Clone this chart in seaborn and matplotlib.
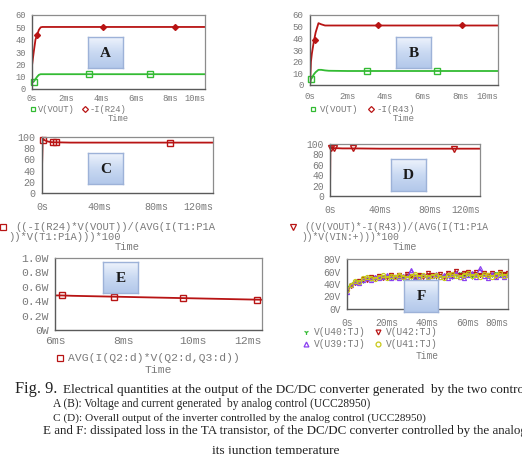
import matplotlib
matplotlib.use('Agg')
import matplotlib.pyplot as plt
from matplotlib.lines import Line2D
from matplotlib.colors import LinearSegmentedColormap
import numpy as np
import pandas as pd
import seaborn as sns

# ---- data (time in ms) ----
a_t     = [0, 0.1, 0.2, 0.3, 0.4, 0.5, 0.6, 0.8, 1, 2, 4, 6, 8, 10]
a_vout  = [5, 6, 8, 10, 11.5, 12, 12, 12, 12, 12, 12, 12, 12, 12]
a_ir24  = [19, 30, 40, 44, 48, 50, 50.3, 50.3, 50.3, 50.3, 50.3, 50.3, 50.3, 50.3]
a_mk_v  = ([0.1, 3.3, 6.8], [6, 12, 12])
a_mk_i  = ([0.3, 4.1, 8.25], [44, 50.3, 50.3])

b_t     = [0, 0.05, 0.1, 0.2, 0.3, 0.45, 0.6, 0.8, 1, 2, 4, 6, 8, 10]
b_vout  = [0, 5, 6, 9, 11, 13, 13, 12.5, 12.2, 12, 12, 12, 12, 12]
b_ir43  = [0, 20, 27, 37, 45, 53, 52, 51, 51, 51, 51, 51, 51, 51]
b_mk_v  = ([0.05, 3.05, 6.75], [5, 12, 12])
b_mk_i  = ([0.25, 3.6, 8.1], [39, 51, 51])

c_t     = [0, 0.5, 1, 2, 4, 6, 8, 10, 20, 40, 80, 120]
c_eff   = [45, 97, 96, 94, 92, 91, 90.5, 90.5, 90, 90, 90, 90]
c_mk    = ([1, 8, 10, 90], [95, 90.5, 90.5, 90])

d_t     = [0, 0.3, 1, 2, 5, 10, 20, 40, 80, 120]
d_eff   = [0, 93, 93, 92, 92, 91.5, 91.5, 91, 91, 91]
d_mk    = ([0.8, 3.5, 18, 99.5], [92.5, 92, 91.5, 91])

e_t     = [6.0, 6.2, 6.5, 7.0, 7.5, 8.0, 8.5, 9.0, 9.5, 10.0, 10.5, 11.0, 11.5, 12.0]
e_p     = [0.48, 0.48, 0.475, 0.47, 0.465, 0.46, 0.455, 0.45, 0.445, 0.44, 0.435, 0.43, 0.425, 0.42]
e_mk    = ([6.2, 7.7, 9.7, 11.85], [0.48, 0.455, 0.44, 0.42])

f_t = [0, 2, 4, 6, 8, 10, 12, 14, 16, 18, 20, 22, 24, 26, 28, 30, 32, 34, 36, 38, 40,
       42, 44, 46, 48, 50, 52, 54, 56, 58, 60, 62, 64, 66, 68, 70, 72, 74, 76, 78, 80]
f_u40 = [33, 40, 44, 47, 45, 50, 48, 52, 50, 53, 51, 49, 53, 52, 50, 54, 52, 51, 55, 53, 52,
         54, 51, 55, 53, 56, 52, 54, 57, 53, 55, 52, 56, 54, 57, 53, 55, 58, 54, 56, 55]
f_u42 = [30, 37, 42, 45, 48, 46, 51, 49, 53, 50, 52, 55, 51, 54, 52, 56, 53, 50, 55, 52, 57,
         54, 53, 56, 52, 58, 55, 61, 54, 57, 60, 56, 59, 55, 58, 54, 57, 53, 59, 56, 57]
f_u39 = [28, 38, 43, 41, 47, 50, 47, 52, 49, 51, 54, 50, 52, 49, 53, 51, 63, 52, 50, 54, 49,
         53, 56, 51, 54, 50, 53, 57, 52, 49, 55, 58, 52, 65, 53, 50, 56, 52, 55, 51, 54]
f_u41 = [31, 39, 45, 43, 49, 51, 50, 48, 52, 54, 50, 53, 51, 55, 52, 50, 53, 56, 52, 54, 51,
         53, 55, 52, 50, 54, 56, 53, 51, 55, 57, 53, 55, 52, 56, 54, 52, 55, 57, 53, 55]

cap_title = 'Fig. 9.'
cap_lines = [
    "Electrical quantities at the output of the DC/DC converter generated  by the two controls",
    "A (B): Voltage and current generated  by analog control (UCC28950)",
    "C (D): Overall output of the inverter controlled by the analog control (UCC28950)",
    "E and F: dissipated loss in the TA transistor, of the DC/DC converter controlled by the analog control and",
    "its junction temperature",
]

RED = '#b81414'
GREEN = '#33bb33'
PURPLE = '#8a3ff0'
OLIVE = '#c8c818'
GRAY_TXT = '#7a7a7a'
MONO = 'Liberation Mono'
SERIF = 'Liberation Serif'

sns.set_theme(style='white')
plt.rcParams['font.family'] = [MONO, 'DejaVu Sans Mono']

W, H = 522, 454
fig = plt.figure(figsize=(W / 100, H / 100), dpi=100)


def px_axes(l, t, r, b):
    return fig.add_axes([l / W, 1 - b / H, (r - l) / W, (b - t) / H])


def style_ax(ax, xlim, xticks, xlabels, ylim, yticks, ylabels, fs, tickdir='out', xpad=4):
    ax.set_xlim(xlim)
    ax.set_ylim(ylim)
    ax.set_xticks(xticks)
    ax.set_xticklabels(xlabels)
    ax.set_yticks(yticks)
    ax.set_yticklabels(ylabels)
    ax.tick_params(axis='both', direction='out', length=2.5, width=0.8,
                   color='#555555', labelcolor=GRAY_TXT, labelsize=fs, pad=2)
    ax.tick_params(axis='x', direction=tickdir, pad=xpad)
    ax.get_xticklabels()[-1].set_horizontalalignment('right')
    ax.set_xlabel('')
    ax.set_ylabel('')
    for s in ['left', 'bottom']:
        ax.spines[s].set_color('#5a5a5a')
        ax.spines[s].set_linewidth(1.0)
    for s in ['top', 'right']:
        ax.spines[s].set_color('#8c8c8c')
        ax.spines[s].set_linewidth(0.9)


def time_label(ax, y, fs):
    pos = ax.get_position()
    fig.text((pos.x0 + pos.x1) / 2, 1 - y / H, 'Time', ha='center', va='center',
             color=GRAY_TXT, fontsize=fs, family=MONO)


def legend_item(x, y, marker, color, text, fs, ms=3.5, dx=8):
    fig.add_artist(Line2D([x / W], [1 - y / H], transform=fig.transFigure, ls='none',
                          marker=marker, mfc='none', mec=color, mew=0.9, ms=ms))
    fig.text((x + dx) / W, 1 - y / H, text, ha='left', va='center',
             color=GRAY_TXT, fontsize=fs, family=MONO)


grad_cmap = LinearSegmentedColormap.from_list('box', ['#eef3fc', '#c9d9f2', '#b3c8ea'])


def letter_box(l, t, r, b, letter):
    bx = px_axes(l, t, r, b)
    g = np.linspace(0, 1, 64).reshape(-1, 1)
    bx.imshow(g, cmap=grad_cmap, aspect='auto', extent=(0, 1, 0, 1))
    bx.set_xticks([])
    bx.set_yticks([])
    for s in bx.spines.values():
        s.set_color('#9db2d8')
        s.set_linewidth(1.0)
    bx.text(0.5, 0.48, letter, ha='center', va='center', fontsize=11,
            fontweight='bold', family=SERIF, color='#1a1a1a')


def line_with_marks(ax, x, y, mk, color, marker, ms=3.5, filled=False):
    sns.lineplot(x=x, y=y, ax=ax, color=color, linewidth=1.3, estimator=None, sort=False)
    ax.plot(mk[0], mk[1], ls='none', marker=marker, ms=ms, mec=color, mew=1.0,
            mfc=color if filled else 'none', clip_on=False)


# ---- A ----
fs = 6.3
axA = px_axes(32, 15, 205, 89)
line_with_marks(axA, a_t, a_vout, a_mk_v, GREEN, 's', ms=4)
line_with_marks(axA, a_t, a_ir24, a_mk_i, RED, 'D', ms=3, filled=True)
style_ax(axA, (0, 10), [0, 2, 4, 6, 8, 10], ['0s', '2ms', '4ms', '6ms', '8ms', '10ms'],
         (0, 60), [0, 10, 20, 30, 40, 50, 60], ['0', '10', '20', '30', '40', '50', '60'],
         fs, xpad=1.2)
legend_item(33, 109, 's', GREEN, 'V(VOUT)', fs, dx=5)
legend_item(85, 109, 'D', RED, '-I(R24)', fs, ms=3, dx=5)
time_label(axA, 119, fs)
letter_box(88, 37, 123, 68, 'A')

# ---- B ----
fs = 6.6
axB = px_axes(310, 15, 498, 85)
line_with_marks(axB, b_t, b_vout, b_mk_v, GREEN, 's', ms=4)
line_with_marks(axB, b_t, b_ir43, b_mk_i, RED, 'D', ms=3, filled=True)
style_ax(axB, (0, 10), [0, 2, 4, 6, 8, 10], ['0s', '2ms', '4ms', '6ms', '8ms', '10ms'],
         (0, 60), [0, 10, 20, 30, 40, 50, 60], ['0', '10', '20', '30', '40', '50', '60'],
         fs, xpad=2.5)
legend_item(313, 109, 's', GREEN, 'V(VOUT)', fs, dx=7)
legend_item(371, 109, 'D', RED, '-I(R43)', fs, ms=3, dx=6)
time_label(axB, 119, fs)
letter_box(396, 37, 431, 68, 'B')

# ---- C ----
fs = 7.2
axC = px_axes(42, 137, 213, 193)
line_with_marks(axC, c_t, c_eff, c_mk, RED, 's', ms=3.8)
style_ax(axC, (0, 120), [0, 40, 80, 120], ['0s', '40ms', '80ms', '120ms'],
         (0, 100), [0, 20, 40, 60, 80, 100], ['0', '20', '40', '60', '80', '100'], fs)
legend_item(3, 227, 's', RED, '((-I(R24)*V(VOUT))/(AVG(I(T1:P1A', 7.6, ms=3.8, dx=12)
fig.text(8 / W, 1 - 237 / H, '))*V(T1:P1A)))*100', ha='left', va='center',
         color=GRAY_TXT, fontsize=7.6, family=MONO)
time_label(axC, 247, 7.6)
letter_box(88, 153, 123, 184, 'C')

# ---- D ----
fs = 6.9
axD = px_axes(330, 144, 480, 196)
line_with_marks(axD, d_t, d_eff, d_mk, RED, 'v', ms=4)
style_ax(axD, (0, 120), [0, 40, 80, 120], ['0s', '40ms', '80ms', '120ms'],
         (0, 100), [0, 20, 40, 60, 80, 100], ['0', '20', '40', '60', '80', '100'], fs)
legend_item(293, 227, 'v', RED, '((V(VOUT)*-I(R43))/(AVG(I(T1:P1A', fs, ms=4, dx=11)
fig.text(301 / W, 1 - 237 / H, '))*V(VIN:+)))*100', ha='left', va='center',
         color=GRAY_TXT, fontsize=fs, family=MONO)
time_label(axD, 247, 7.3)
letter_box(391, 159, 426, 191, 'D')

# ---- E ----
fs = 8.2
axE = px_axes(55, 258, 262, 330)
line_with_marks(axE, e_t, e_p, e_mk, RED, 's', ms=4.2)
style_ax(axE, (6, 12), [6, 8, 10, 12], ['6ms', '8ms', '10ms', '12ms'],
         (0, 1.0), [0, 0.2, 0.4, 0.6, 0.8, 1.0], ['0W', '0.2W', '0.4W', '0.6W', '0.8W', '1.0W'],
         fs, tickdir='in')
legend_item(60, 358, 's', RED, 'AVG(I(Q2:d)*V(Q2:d,Q3:d))', fs, ms=4.2, dx=8)
time_label(axE, 370, fs)
letter_box(103, 262, 138, 293, 'E')

# ---- F ----
fs = 6.9
axF = px_axes(347, 259, 508, 309)
f_series = [(f_u40, GREEN, '1'), (f_u42, RED, 'v'), (f_u39, PURPLE, '^'), (f_u41, OLIVE, 'o')]
for vals, col, mk in f_series:
    sns.lineplot(x=f_t, y=vals, ax=axF, color=col, linewidth=0.9, estimator=None, sort=False,
                 marker=mk, markersize=3, markerfacecolor='none', markeredgecolor=col,
                 markeredgewidth=0.8)
style_ax(axF, (0, 80), [0, 20, 40, 60, 80], ['0s', '20ms', '40ms', '60ms', '80ms'],
         (0, 80), [0, 20, 40, 60, 80], ['0V', '20V', '40V', '60V', '80V'], fs)
legend_item(306, 332, '1', GREEN, 'V(U40:TJ)', fs, dx=8)
legend_item(378, 332, 'v', RED, 'V(U42:TJ)', fs, dx=8)
legend_item(306, 344, '^', PURPLE, 'V(U39:TJ)', fs, dx=8)
legend_item(378, 344, 'o', OLIVE, 'V(U41:TJ)', fs, dx=8)
time_label(axF, 356, fs)
letter_box(404, 280, 438, 312, 'F')

# ---- caption ----
fig.text(15 / W, 1 - 389 / H, cap_title, ha='left', va='center', fontsize=11.8,
         family=SERIF, color='#222222')
cap_pos = [(63, 390, 9.5), (53, 404, 8.3), (53, 418, 8.1), (43, 431, 9.4), (212, 451, 9.6)]
for (x, y, size), txt in zip(cap_pos, cap_lines):
    fig.text(x / W, 1 - y / H, txt, ha='left', va='center', fontsize=size,
             family=SERIF, color='#222222')

fig.savefig('out.png', dpi=100)
